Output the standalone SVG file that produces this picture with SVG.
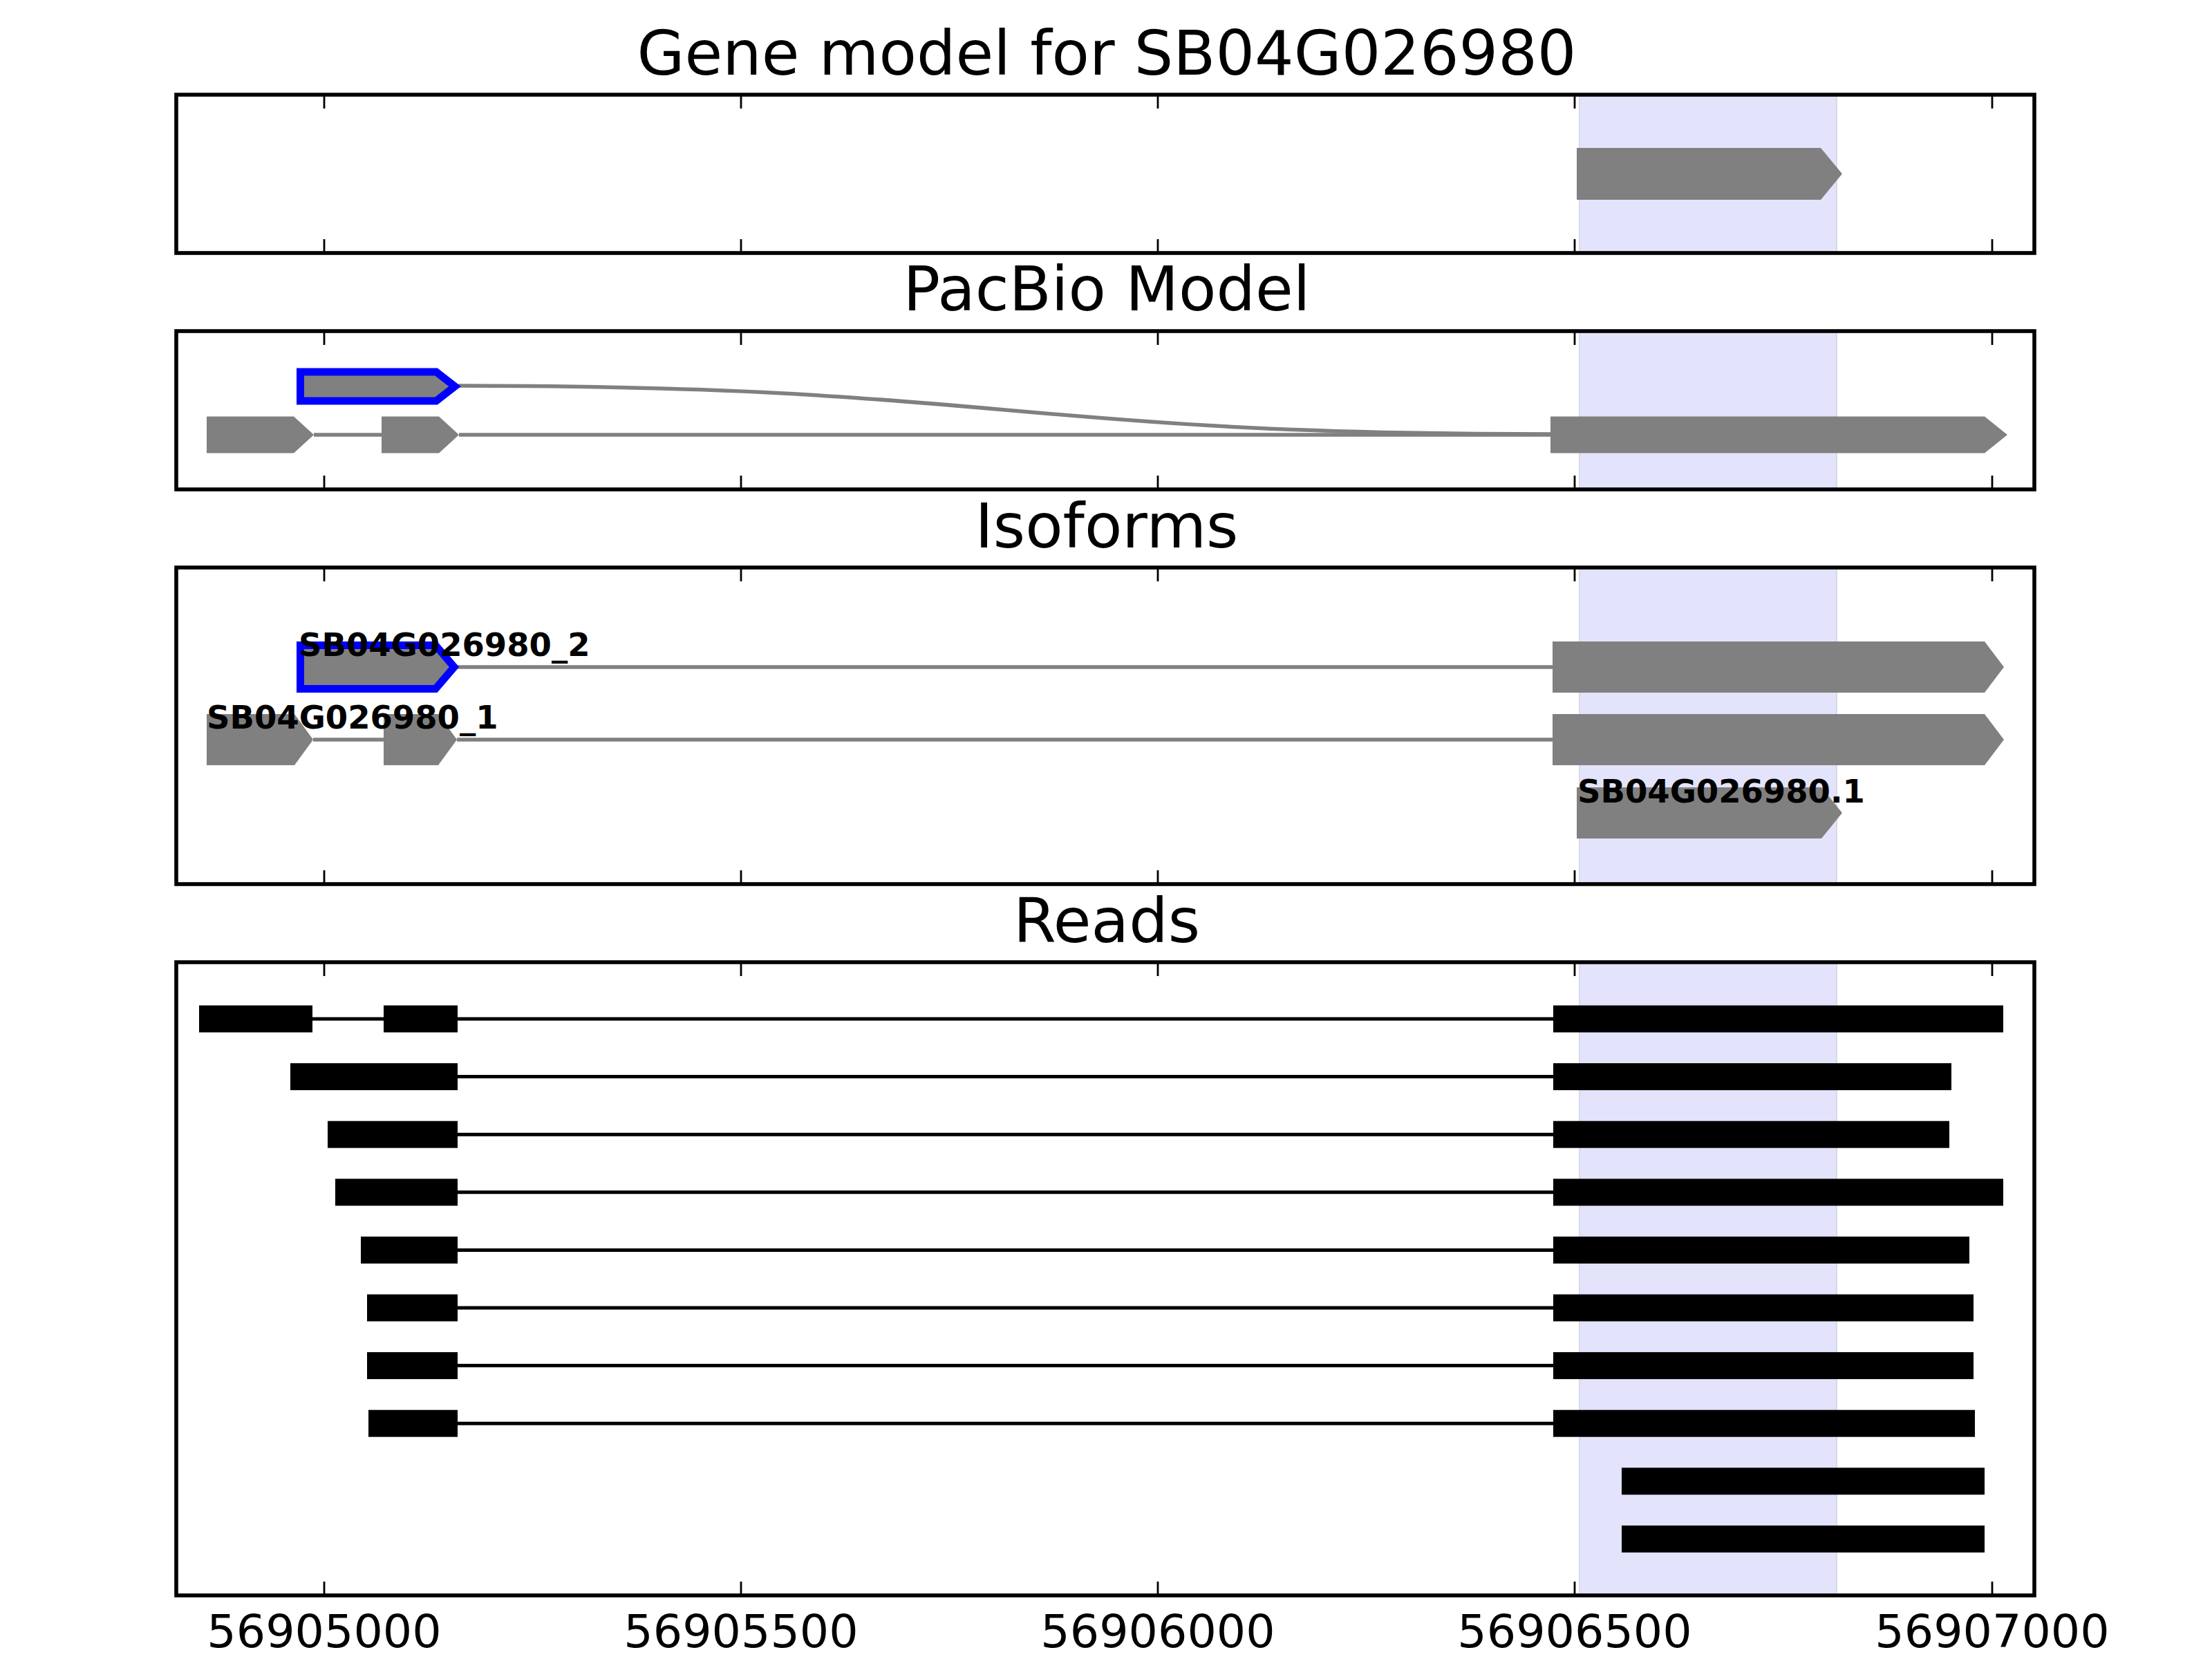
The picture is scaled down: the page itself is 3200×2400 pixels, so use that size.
<svg xmlns="http://www.w3.org/2000/svg" width="3200" height="2400" viewBox="0 0 3200 2400">
<style>
.title{font-family:"DejaVu Sans","Liberation Sans",sans-serif;font-size:89px;text-anchor:middle;fill:#000}
.tick{font-family:"DejaVu Sans","Liberation Sans",sans-serif;font-size:66.7px;text-anchor:middle;fill:#000}
.lab{font-family:"DejaVu Sans","Liberation Sans",sans-serif;font-size:46.5px;font-weight:bold;fill:#000}
.spine{fill:none;stroke:#000;stroke-width:5.6}
.shade{fill:#e3e3fc;stroke:#d9d9ec;stroke-width:2}
.ex{fill:#808080}
.sel{fill:#808080;stroke:#0000ff;stroke-width:11;stroke-linejoin:miter}
.intr{stroke:#808080;stroke-width:5.5;fill:none}
.read{fill:#000}
.rintr{stroke:#000;stroke-width:5}
.tk{stroke:#000;stroke-width:2.8}
</style>
<rect width="3200" height="2400" fill="#fff"/>

<g id="shading">
<rect class="shade" x="2285" y="137" width="372" height="229"/>
<rect class="shade" x="2285" y="479" width="372" height="229"/>
<rect class="shade" x="2285" y="821" width="372" height="458"/>
<rect class="shade" x="2285" y="1392" width="372" height="916"/>
</g>

<g id="connectors">
<path class="intr" d="M663,558 C1454,558 1454,628 2245,628"/>
<line class="intr" x1="454" y1="629" x2="552" y2="629"/>
<line class="intr" x1="664" y1="629" x2="2243" y2="629"/>
<line class="intr" x1="660" y1="965" x2="2246" y2="965"/>
<line class="intr" x1="453" y1="1070" x2="555" y2="1070"/>
<line class="intr" x1="661" y1="1070" x2="2246" y2="1070"/>
<line class="rintr" x1="452" y1="1474" x2="555" y2="1474"/>
<line class="rintr" x1="662" y1="1474" x2="2247" y2="1474"/>
<line class="rintr" x1="662" y1="1557.6" x2="2247" y2="1557.6"/>
<line class="rintr" x1="662" y1="1641.2" x2="2247" y2="1641.2"/>
<line class="rintr" x1="662" y1="1724.8" x2="2247" y2="1724.8"/>
<line class="rintr" x1="662" y1="1808.4" x2="2247" y2="1808.4"/>
<line class="rintr" x1="662" y1="1892" x2="2247" y2="1892"/>
<line class="rintr" x1="662" y1="1975.6" x2="2247" y2="1975.6"/>
<line class="rintr" x1="662" y1="2059.2" x2="2247" y2="2059.2"/>
</g>

<g id="gene-model">
<polygon class="ex" points="2281,214 2634,214 2665,251.5 2634,289 2281,289"/>
</g>

<g id="pacbio-model">
<polygon class="sel" points="434.5,538 631,538 658,559 631,580 434.5,580"/>
<polygon class="ex" points="299,602.5 425,602.5 454,629 425,655.5 299,655.5"/>
<polygon class="ex" points="552,602.5 635,602.5 664,629 635,655.5 552,655.5"/>
<polygon class="ex" points="2243,602.5 2871,602.5 2904,629 2871,655.5 2243,655.5"/>
</g>

<g id="isoform-2">
<polygon class="sel" points="434.5,933.5 630,933.5 657,965 630,996.5 434.5,996.5"/>
<polygon class="ex" points="2246,928 2871,928 2899,965 2871,1002 2246,1002"/>
<text class="lab" x="432" y="949">SB04G026980_2</text>
</g>

<g id="isoform-1">
<polygon class="ex" points="299,1033 426,1033 453,1070 426,1107 299,1107"/>
<polygon class="ex" points="555,1033 634,1033 661,1070 634,1107 555,1107"/>
<polygon class="ex" points="2246,1033 2871,1033 2899,1070 2871,1107 2246,1107"/>
<text class="lab" x="299" y="1054">SB04G026980_1</text>
</g>

<g id="isoform-ref">
<polygon class="ex" points="2281,1139 2635,1139 2665,1176 2635,1213 2281,1213"/>
<text class="lab" x="2282" y="1161">SB04G026980.1</text>
</g>

<g id="reads">
<rect class="read" x="288" y="1454.5" width="164" height="39"/>
<rect class="read" x="555" y="1454.5" width="107" height="39"/>
<rect class="read" x="2247" y="1454.5" width="651" height="39"/>
<rect class="read" x="420" y="1538.1" width="242" height="39"/>
<rect class="read" x="2247" y="1538.1" width="576" height="39"/>
<rect class="read" x="474" y="1621.7" width="188" height="39"/>
<rect class="read" x="2247" y="1621.7" width="573" height="39"/>
<rect class="read" x="485" y="1705.3" width="177" height="39"/>
<rect class="read" x="2247" y="1705.3" width="651" height="39"/>
<rect class="read" x="522" y="1788.9" width="140" height="39"/>
<rect class="read" x="2247" y="1788.9" width="602" height="39"/>
<rect class="read" x="531" y="1872.5" width="131" height="39"/>
<rect class="read" x="2247" y="1872.5" width="608" height="39"/>
<rect class="read" x="531" y="1956.1" width="131" height="39"/>
<rect class="read" x="2247" y="1956.1" width="608" height="39"/>
<rect class="read" x="533" y="2039.7" width="129" height="39"/>
<rect class="read" x="2247" y="2039.7" width="610" height="39"/>
<rect class="read" x="2346" y="2123.3" width="525" height="39"/>
<rect class="read" x="2346" y="2206.9" width="525" height="39"/>
</g>

<g id="axes">
<rect class="spine" x="255" y="137" width="2688" height="229"/>
<rect class="spine" x="255" y="479" width="2688" height="229"/>
<rect class="spine" x="255" y="821" width="2688" height="458"/>
<rect class="spine" x="255" y="1392" width="2688" height="916"/>
<path class="tk" d="M469,137v20M1072,137v20M1675,137v20M2278,137v20M2882,137v20M469,366v-20M1072,366v-20M1675,366v-20M2278,366v-20M2882,366v-20"/>
<path class="tk" d="M469,479v20M1072,479v20M1675,479v20M2278,479v20M2882,479v20M469,708v-20M1072,708v-20M1675,708v-20M2278,708v-20M2882,708v-20"/>
<path class="tk" d="M469,821v20M1072,821v20M1675,821v20M2278,821v20M2882,821v20M469,1279v-20M1072,1279v-20M1675,1279v-20M2278,1279v-20M2882,1279v-20"/>
<path class="tk" d="M469,1392v20M1072,1392v20M1675,1392v20M2278,1392v20M2882,1392v20M469,2308v-20M1072,2308v-20M1675,2308v-20M2278,2308v-20M2882,2308v-20"/>
<text class="tick" x="469" y="2383">56905000</text>
<text class="tick" x="1072" y="2383">56905500</text>
<text class="tick" x="1675" y="2383">56906000</text>
<text class="tick" x="2278" y="2383">56906500</text>
<text class="tick" x="2882" y="2383">56907000</text>
</g>

<g id="titles">
<text class="title" x="1601" y="108">Gene model for SB04G026980</text>
<text class="title" x="1601" y="449">PacBio Model</text>
<text class="title" x="1601" y="792">Isoforms</text>
<text class="title" x="1601" y="1363">Reads</text>
</g>
</svg>
